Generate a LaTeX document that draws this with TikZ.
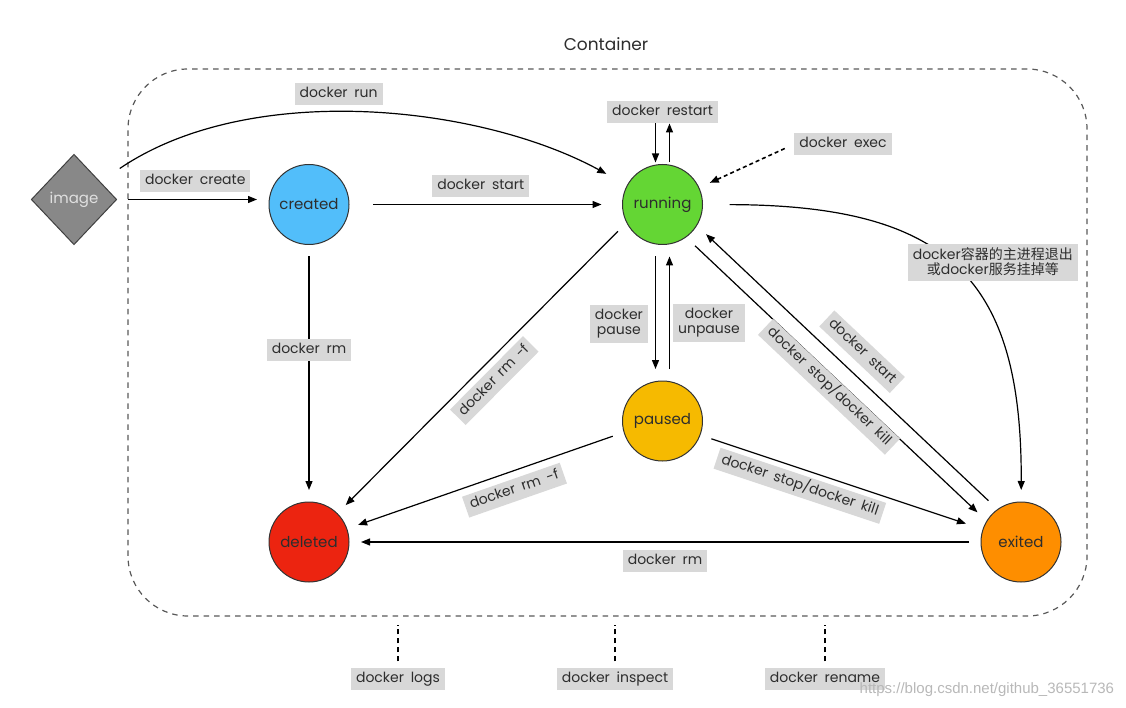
\documentclass[tikz,border=0pt]{standalone}
\usepackage{fontspec}
\setmainfont{Poppins}[WordSpace=1.8]
\newfontfamily\cjk{Noto Sans CJK SC}
\newfontfamily\wmfont{Liberation Sans}
\usetikzlibrary{positioning,shapes.geometric,arrows.meta}
\definecolor{createdblue}{RGB}{82,190,250}
\definecolor{runninggreen}{RGB}{100,214,52}
\definecolor{pausedyellow}{RGB}{246,186,0}
\definecolor{deletedred}{RGB}{236,36,16}
\definecolor{exitedorange}{RGB}{254,142,0}
\definecolor{imagegray}{RGB}{136,136,136}
\definecolor{labelgray}{RGB}{216,216,216}
\definecolor{textgray}{RGB}{45,45,45}
\begin{document}
\begin{tikzpicture}[x=1pt,y=-1pt,line width=1.2pt,>={Triangle[length=9pt,width=7pt]},
    main/.style = {draw=black!80, line width=1pt, circle, minimum size=80pt, inner sep=0pt, outer sep=12pt, font=\fontsize{15}{18}\selectfont, text=textgray},
    tag/.style = {fill=labelgray, inner xsep=5pt, inner ysep=4.5pt, font=\fontsize{14}{15}\selectfont, text=textgray},
    lbl/.style = {tag, text height=10pt, text depth=3pt},
    lbltwo/.style = {tag, align=center},
    box/.style = {draw=black!65, dash pattern=on 5.5pt off 5pt, rounded corners=60pt, minimum width=959pt, minimum height=547pt, outer sep=0pt},
    vline/.style = {line width=1.5pt, dash pattern=on 5pt off 4pt, shorten <=6pt, shorten >=9pt}]
        \useasboundingbox (0,0) rectangle (1126,708);
        \node[box] (ctr) at (607.5,342.5) {};
        \node[font=\fontsize{17}{20}\selectfont, text=textgray] (title) at (606,44) {Container};
        \node[diamond, draw=black!75, line width=1pt, fill=imagegray, minimum width=95pt, minimum height=100pt, inner sep=0pt, outer sep=12pt, text=black!12, font=\fontsize{15}{17}\selectfont] (image) at (74,199.5) {image};
        \node[main, fill=createdblue] (created) at (309,204.5) {created};
        \node[main, fill=runninggreen] (running) at (662.5,204.5) {running};
        \node[main, fill=pausedyellow] (paused) at (662.5,421) {paused};
        \node[main, fill=deletedred] (deleted) at (309,542) {deleted};
        \node[main, fill=exitedorange] (exited) at (1021,542) {exited};
        \node[lbl, above=29pt of running] (restart) {docker restart};
        \node[lbl] (exec) at (843,144.5) {docker exec};
        \node[lbl] (logs) at (398,679) {docker logs};
        \node[lbl] (inspect) at (615,679) {docker inspect};
        \node[lbl] (rename) at (825,679) {docker rename};
        \node[anchor=east, font=\wmfont\fontsize{15}{17}\selectfont, text=black!28] (mark) at (1118,690) {https://blog.csdn.net/github\_36551736};
        \draw[->, shorten <=-6pt] (image) -- (image -| created.west) node[lbl, midway, above=7pt] {docker create};
        \draw[->, shorten >=12pt] ([xshift=16pt]image.north east) .. controls (250,80) and (480,105) .. (running) node[lbl, pos=0.45, above=7pt] {docker run};
        \draw[->, shorten <=12pt, shorten >=9pt] (created) -- (running) node[lbl, pos=0.48, above=7pt] {docker start};
        \draw[->] (created) -- (deleted) node[lbl, pos=0.4] {docker rm};
        \draw[->] (running.211) -- (deleted) node[lbl, midway, sloped, below=6pt] {docker rm -f};
        \draw[->] (paused.197) -- (deleted) node[lbl, pos=0.41, sloped, below=7pt] {docker rm -f};
        \draw[->] (exited) -- (deleted) node[lbl, midway, below=7pt] {docker rm};
        \draw[->] ([xshift=-7pt]running.south) -- ([xshift=-7pt]paused.north) node[lbltwo, pos=0.6, left=7pt] {docker\\pause};
        \draw[->] ([xshift=7pt]paused.north) -- ([xshift=7pt]running.south) node[lbltwo, pos=0.41, right=3pt] {docker\\unpause};
        \draw[->] ([xshift=-7pt]restart.south) -- ([xshift=-7pt,yshift=-10pt]running.north);
        \draw[->] ([xshift=7pt,yshift=-10pt]running.north) -- ([xshift=7pt]restart.south);
        \draw[->, dash pattern=on 4pt off 3pt, line width=1.6pt] ([xshift=-9pt,yshift=-4pt]exec.west) -- (running);
        \draw[->, shorten <=15pt] (running) .. controls (950,205) and (1022,280) .. (exited) node[lbltwo, pos=0.55, xshift=23pt, yshift=21pt] {docker{\cjk 容器的主进程退出}\\{\cjk 或}docker{\cjk 服务挂掉等}};
        \draw[->] ([xshift=-5.5pt,yshift=-5.8pt]running.-43) -- ([xshift=-5.5pt,yshift=-5.8pt]exited.137) node[lbl, midway, sloped, below=-1pt] {docker stop/docker kill};
        \draw[->] ([xshift=5.5pt,yshift=5.8pt]exited.137) -- ([xshift=5.5pt,yshift=5.8pt]running.-43) node[lbl, midway, sloped, above=10pt] {docker start};
        \draw[->, shorten >=6pt] (paused.-20) -- (exited) node[lbl, pos=0.36, sloped, below=5pt] {docker stop/docker kill};
        \draw[vline] (logs.north) -- (logs.north |- ctr.south);
        \draw[vline] (inspect.north) -- (inspect.north |- ctr.south);
        \draw[vline] (rename.north) -- (rename.north |- ctr.south);
\end{tikzpicture}
\end{document}
